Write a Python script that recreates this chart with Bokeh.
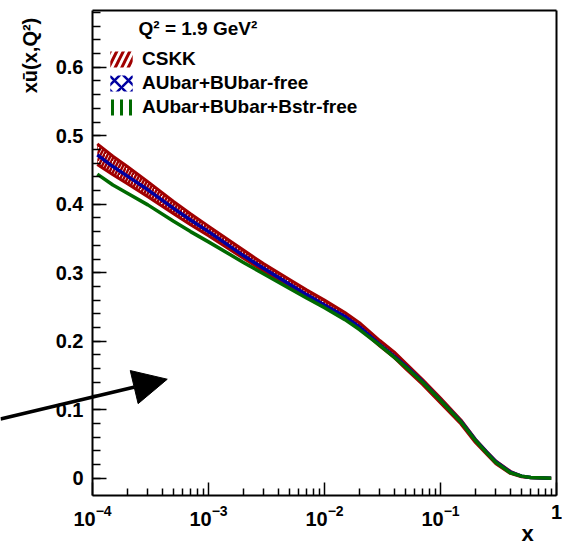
import numpy as np
from bokeh.plotting import figure
from bokeh.models import (FixedTicker, LogTickFormatter, Legend, LegendItem,
                          Label, Arrow, NormalHead, LinearAxis, LogAxis)
from bokeh.embed import file_html
from bokeh.resources import INLINE

# ---------------- data ----------------
x_vals = [1.1e-4, 1.5e-4, 2e-4, 3e-4, 5e-4, 7e-4, 1e-3, 2e-3, 3e-3, 5e-3, 7e-3,
          1e-2, 1.5e-2, 2e-2, 3e-2, 4e-2, 5e-2, 7e-2, 0.1, 0.15, 0.2, 0.25, 0.3,
          0.4, 0.5, 0.6, 0.7, 0.8, 0.9]

cskk_hi = [0.488, 0.470, 0.455, 0.433, 0.404, 0.386, 0.368, 0.333, 0.313, 0.290,
           0.275, 0.260, 0.242, 0.227, 0.201, 0.184, 0.168, 0.144, 0.117, 0.085,
           0.057, 0.039, 0.025, 0.010, 0.003, 0.001, 0.0005, 0.0002, 0.0001]
cskk_lo = [0.458, 0.443, 0.430, 0.411, 0.386, 0.370, 0.354, 0.321, 0.302, 0.280,
           0.266, 0.251, 0.234, 0.219, 0.193, 0.176, 0.160, 0.137, 0.110, 0.079,
           0.052, 0.035, 0.021, 0.007, 0.002, 0.0005, 0.0002, 0.0001, 0.0]
aubar_free = [0.472, 0.455, 0.441, 0.421, 0.394, 0.377, 0.360, 0.325, 0.306, 0.283,
              0.268, 0.253, 0.236, 0.221, 0.195, 0.178, 0.164, 0.141, 0.114, 0.083,
              0.056, 0.038, 0.024, 0.009, 0.003, 0.001, 0.0005, 0.0002, 0.0001]
bstr_free = [0.444, 0.428, 0.416, 0.399, 0.375, 0.360, 0.345, 0.315, 0.298, 0.277,
             0.263, 0.249, 0.2315, 0.217, 0.194, 0.1765, 0.1625, 0.140, 0.1135, 0.082,
             0.055, 0.037, 0.023, 0.008, 0.003, 0.001, 0.0005, 0.0002, 0.0001]

labels = ["CSKK", "AUbar+BUbar-free", "AUbar+BUbar+Bstr-free"]
legend_header = "Q\u00b2 = 1.9 GeV\u00b2"
y_title = "x\u016b(x,Q\u00b2)"
x_title = "x"
x_ticks = [1e-4, 1e-3, 1e-2, 1e-1, 1.0]
x_minor = [m * 10.0 ** e for e in range(-4, 0) for m in range(2, 10)]
y_ticks = [0.0, 0.1, 0.2, 0.3, 0.4, 0.5, 0.6]
y_minor = [i / 50 for i in range(0, 35)]
y_tick_labels = {0.0: "0", 0.1: "0.1", 0.2: "0.2", 0.3: "0.3", 0.4: "0.4",
                 0.5: "0.5", 0.6: "0.6"}

# plotted box (axes extent) and the visible window around it
X_LO, X_HI = 1e-4, 1.0
Y_LO, Y_HI = -0.0253, 0.6828
WIN_X = (10 ** (-4 - 92 / 116), 10 ** (6 / 116))
WIN_Y = (-0.1041, 0.6974)

RED = "#a00000"
BLUE = "#0000a0"
GREEN = "#006a00"
FONT = "Liberation Sans"

# ---------------- figure ----------------
p = figure(width=562, height=549, x_axis_type="log",
           x_range=WIN_X, y_range=WIN_Y,
           output_backend="svg", toolbar_location=None, min_border=0)
p.title.visible = False
p.xgrid.visible = False
p.ygrid.visible = False
p.background_fill_color = "white"
p.border_fill_color = "white"
p.outline_line_alpha = 0

for ax in (p.xaxis[0], p.yaxis[0]):
    ax.axis_line_width = 2
    ax.major_tick_line_width = 1.5
    ax.minor_tick_line_width = 1.5
    ax.major_tick_out = 0
    ax.minor_tick_out = 0
    ax.major_label_text_font = FONT
    ax.major_label_text_font_style = "bold"
    ax.major_label_text_font_size = "20px"
    ax.major_label_text_color = "black"
    ax.major_label_standoff = 9

p.xaxis.fixed_location = Y_LO
p.xaxis.bounds = (X_LO, X_HI)
p.xaxis.ticker = FixedTicker(ticks=x_ticks, minor_ticks=x_minor)
p.xaxis.formatter = LogTickFormatter()
p.xaxis.major_label_overrides = {1.0: "1"}
p.xaxis.major_tick_in = 13
p.xaxis.minor_tick_in = 7

p.yaxis.fixed_location = X_LO
p.yaxis.bounds = (Y_LO, Y_HI)
p.yaxis.ticker = FixedTicker(ticks=y_ticks, minor_ticks=y_minor)
p.yaxis.major_label_overrides = y_tick_labels
p.yaxis.major_tick_in = 14
p.yaxis.minor_tick_in = 8

# plain frame lines on top and right (axes without ticks)
top_ax = LogAxis(fixed_location=Y_HI, bounds=(X_LO, X_HI),
                 ticker=FixedTicker(ticks=[], minor_ticks=[]),
                 axis_line_width=2, major_label_text_alpha=0)
right_ax = LinearAxis(fixed_location=X_HI, bounds=(Y_LO, Y_HI),
                      ticker=FixedTicker(ticks=[], minor_ticks=[]),
                      axis_line_width=2, major_label_text_alpha=0)
p.add_layout(top_ax, "above")
p.add_layout(right_ax, "right")

# ---------------- curves ----------------
p.varea(x=x_vals, y1=cskk_lo, y2=cskk_hi, fill_alpha=0,
        hatch_pattern="/", hatch_color=RED, hatch_weight=2.5, hatch_scale=7)
p.line(x_vals, cskk_hi, line_color=RED, line_width=3, line_join="round")
p.line(x_vals, cskk_lo, line_color=RED, line_width=3, line_join="round")
p.line(x_vals, aubar_free, line_color=BLUE, line_width=3.5, line_join="round")
p.line(x_vals, bstr_free, line_color=GREEN, line_width=3.5, line_join="round")

# zero-width bands: used only for the hatched legend symbols
leg_red = p.varea(x=x_vals, y1=cskk_lo, y2=cskk_lo, fill_alpha=0,
                  hatch_pattern="/", hatch_color=RED, hatch_weight=3,
                  hatch_scale=13)
leg_blue = p.varea(x=x_vals, y1=aubar_free, y2=aubar_free, fill_alpha=0,
                   hatch_pattern="x", hatch_color=BLUE, hatch_weight=2.5,
                   hatch_scale=14)
leg_green = p.varea(x=x_vals, y1=bstr_free, y2=bstr_free, fill_alpha=0,
                    hatch_pattern="|", hatch_color=GREEN, hatch_weight=3,
                    hatch_scale=9)

legend = Legend(items=[LegendItem(label=labels[0], renderers=[leg_red]),
                       LegendItem(label=labels[1], renderers=[leg_blue]),
                       LegendItem(label=labels[2], renderers=[leg_green])],
                location=(107, 431),
                label_text_font=FONT, label_text_font_style="bold",
                label_text_font_size="19px", label_text_color="black",
                label_standoff=7,
                glyph_width=28, glyph_height=20, label_height=20, spacing=2,
                padding=0, margin=0, border_line_alpha=0,
                background_fill_alpha=0)
p.add_layout(legend)

# ---------------- texts and arrow ----------------
p.add_layout(Label(x=138, y=521, x_units="screen", y_units="screen",
                   text=legend_header, text_align="left",
                   text_baseline="middle", text_font=FONT,
                   text_font_style="bold", text_font_size="19px",
                   text_color="black"))
p.add_layout(Label(x=29, y=494, x_units="screen", y_units="screen",
                   text=y_title, angle=np.pi / 2,
                   text_align="center", text_baseline="middle",
                   text_font=FONT, text_font_style="bold",
                   text_font_size="20px", text_color="black"))
p.add_layout(Label(x=527, y=16, x_units="screen", y_units="screen",
                   text=x_title, text_align="center", text_baseline="middle",
                   text_font=FONT, text_font_style="bold",
                   text_font_size="22px", text_color="black"))

ARROW_X0, ARROW_Y0 = 1.61e-5, 0.0864
ARROW_X1, ARROW_Y1 = 4.41e-4, 0.1445
p.add_layout(Arrow(end=NormalHead(size=34, fill_color="black",
                                  line_color="black"),
                   x_start=ARROW_X0, y_start=ARROW_Y0,
                   x_end=ARROW_X1, y_end=ARROW_Y1,
                   line_width=3.5, line_color="black"))

open("out.html", "w").write(file_html(p, INLINE))
